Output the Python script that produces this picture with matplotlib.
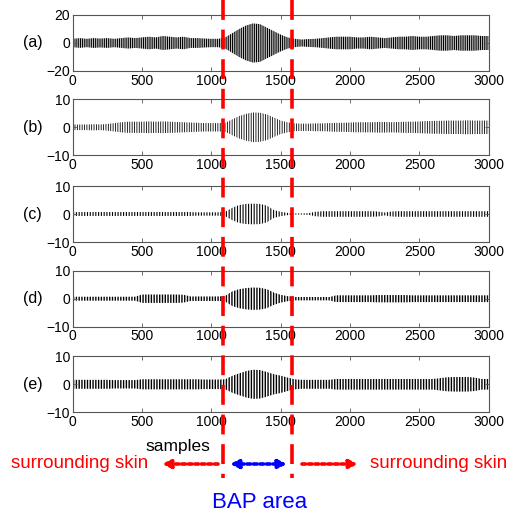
import numpy as np
import matplotlib
matplotlib.use("Agg")
import matplotlib.pyplot as plt
from matplotlib.lines import Line2D
from matplotlib.patches import FancyArrowPatch

plt.rcParams["font.family"] = ["Liberation Sans", "DejaVu Sans"]
plt.rcParams["hatch.color"] = "black"

# envelope amplitude of each trace, read every 50 samples (0..3000)
samples = list(range(0, 3001, 50))
env_a = [3, 3.5, 3, 3.5, 3.2, 3.5, 3, 3.5, 4, 3.5, 4, 4.5, 4, 5, 4.5, 4, 4.5, 3.5, 3.5, 3.2,
         3, 3, 4, 7, 10, 12.5, 14, 13.5, 11, 8.5, 6, 4, 3, 2.5, 2.8, 3, 3.5, 4, 4.5, 4.5,
         4.5, 4, 4, 4.5, 4, 3.5, 4, 4.5, 4.5, 5, 4.5, 4.5, 5, 5.5, 5.5, 5, 5.5, 5.5, 5.5, 5, 5]
env_b = [1, 1, 1, 1.1, 1, 1.2, 1.5, 1.8, 2, 2, 2, 2.1, 2, 2.1, 2, 1.9, 1.8, 1.7, 1.6, 1.5,
         1.5, 1.5, 1.6, 2.8, 4, 4.8, 5.3, 5.2, 4.6, 3.5, 2.4, 1.8, 1.4, 1.3, 1.3, 1.4, 1.4, 1.5, 1.6, 1.6,
         1.7, 1.8, 1.8, 1.8, 1.9, 1.9, 1.8, 1.9, 2, 2, 2.1, 2.2, 2.3, 2.3, 2.4, 2.4, 2.4, 2.5, 2.4, 2.4, 2.4]
env_c = [0.7, 0.7, 0.7, 0.7, 0.7, 0.7, 0.7, 0.7, 0.7, 0.7, 0.7, 0.7, 0.7, 0.7, 0.7, 0.7, 0.7, 0.7, 0.6, 0.6,
         0.6, 0.6, 0.8, 2.2, 3.2, 3.6, 3.7, 3.6, 3.0, 1.4, 0.8, 0.4, 0.2, 0.2, 0.3, 0.8, 1.0, 1.0, 1.0, 1.0,
         1.0, 1.0, 1.0, 1.0, 0.9, 0.5, 0.9, 1.0, 1.0, 1.0, 1.0, 1.0, 1.0, 1.0, 1.0, 1.0, 1.0, 1.0, 1.0, 1.0, 1.0]
env_d = [0.7, 0.7, 0.7, 0.7, 0.7, 0.7, 0.7, 0.7, 0.7, 0.7, 1.5, 1.5, 1.5, 1.5, 1.5, 1.5, 1.4, 0.8, 0.8, 0.8,
         0.8, 0.8, 1.0, 2.6, 3.4, 3.8, 4.0, 3.9, 3.4, 2.2, 1.4, 0.9, 0.6, 0.6, 0.6, 0.6, 0.6, 0.6, 1.2, 1.2,
         1.2, 1.2, 1.2, 1.2, 1.3, 1.3, 1.3, 1.3, 1.3, 1.2, 1.2, 1.2, 1.2, 1.2, 1.2, 1.2, 1.2, 1.2, 1.2, 1.2, 1.2]
env_e = [1.6, 1.6, 1.6, 1.6, 1.6, 1.6, 1.5, 1.5, 1.5, 1.5, 1.8, 1.8, 1.8, 1.8, 1.8, 1.8, 1.8, 1.8, 1.8, 1.7,
         1.7, 1.7, 1.8, 3.0, 3.9, 4.7, 5.2, 5.1, 4.4, 3.6, 3.1, 2.4, 1.8, 1.6, 1.6, 1.6, 1.6, 1.6, 1.9, 1.9,
         1.9, 1.9, 1.9, 1.9, 1.9, 1.9, 1.9, 1.9, 1.9, 1.9, 1.9, 1.9, 1.9, 2.2, 2.5, 2.6, 2.6, 2.6, 2.4, 1.9, 1.9]

envelopes = [env_a, env_b, env_c, env_d, env_e]
panel_labels = ["(a)", "(b)", "(c)", "(d)", "(e)"]
y_limits = [20, 10, 10, 10, 10]
x_ticks = [0, 500, 1000, 1500, 2000, 2500, 3000]
bap_bounds = [1082, 1579]

# hatch density / line width per trace, to mimic the texture of each signal
hatches = ["|||||||||", "|||||||", "||||||", "||||||", "||||||"]
hatch_lw = [0.8, 0.6, 0.8, 1.0, 1.0]

W, H = 516, 519
fig = plt.figure(figsize=(W / 100, H / 100), dpi=100)
RED = "#ff0000"
BLUE = "#0000ff"

ax_left, ax_right = 72.7, 488.7
ax_bottoms = [71, 155.3, 242, 326.7, 412.3]
ax_h = 56
axes = []
for i, env in enumerate(envelopes):
    ax = fig.add_axes([ax_left / W, 1 - ax_bottoms[i] / H, (ax_right - ax_left) / W, ax_h / H])
    lim = y_limits[i]
    e = np.array(env)
    with plt.rc_context({"hatch.linewidth": hatch_lw[i]}):
        ax.fill_between(samples, -e, e, facecolor="none", hatch=hatches[i], linewidth=0)
    ax.set_xlim(0, 3000)
    ax.set_ylim(-lim, lim)
    ax.set_xticks(x_ticks)
    ax.set_yticks([-lim, 0, lim])
    ax.tick_params(direction="in", length=3, top=True, right=True, labelsize=10, pad=2,
                   color="#555555", width=0.6)
    for sp in ax.spines.values():
        sp.set_color("#555555")
        sp.set_linewidth(0.8)
    ax.text(-0.096, 0.5, panel_labels[i], transform=ax.transAxes, ha="center", va="center",
            fontsize=11.5)
    axes.append(ax)

# red dashed boundaries across the whole figure
inv = fig.transFigure.inverted()
for xb in bap_bounds:
    fx = inv.transform(axes[0].transData.transform((xb, 0)))[0]
    fig.add_artist(Line2D([fx, fx], [1.0, 1 - 478 / H], transform=fig.transFigure,
                          color=RED, linewidth=2.6, dashes=(5.5, 2.7), zorder=10))

fig.text(178 / W, 1 - 446 / H, "samples", ha="center", va="center", fontsize=12.5)
fig.text(80 / W, 1 - 464 / H, "surrounding skin", ha="center", va="center", fontsize=13.5,
         color=RED)
fig.text(439 / W, 1 - 464 / H, "surrounding skin", ha="center", va="center", fontsize=13.5,
         color=RED)
fig.text(260 / W, 1 - 503 / H, "BAP area", ha="center", va="center", fontsize=16,
         color=BLUE)

ya = 1 - 464 / H
for (x0, x1, style, col) in [(218, 162, "-|>", RED), (302, 358, "-|>", RED),
                             (230, 287, "<|-|>", BLUE)]:
    fig.add_artist(FancyArrowPatch((x0 / W, ya), (x1 / W, ya), transform=fig.transFigure,
                                   arrowstyle=style, mutation_scale=12, color=col,
                                   linewidth=2.6, linestyle=(0, (1, 0.8)), shrinkA=0, shrinkB=0))

fig.savefig("out.png", dpi=100)
